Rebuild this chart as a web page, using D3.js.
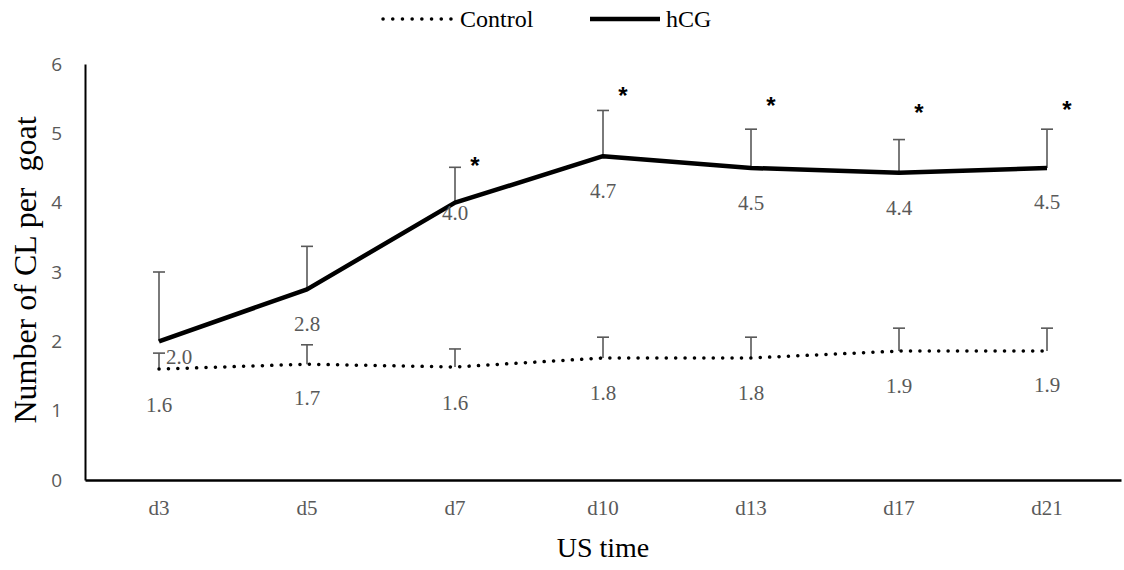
<!DOCTYPE html>
<html>
<head>
<meta charset="utf-8">
<script src="https://cdn.jsdelivr.net/npm/d3@7"></script>
<style>
  body { margin: 0; background: #fff; }
  svg { display: block; }
</style>
</head>
<body>
<svg id="chart" width="1124" height="570"></svg>
<script>
// data
var days = ['d3', 'd5', 'd7', 'd10', 'd13', 'd17', 'd21'];
var hcgMean = [2.0, 2.75, 4.0, 4.67, 4.5, 4.43, 4.5];
var hcgErr = [1.0, 0.62, 0.51, 0.66, 0.56, 0.48, 0.56];
var ctrlMean = [1.6, 1.67, 1.63, 1.76, 1.76, 1.86, 1.86];
var ctrlErr = [0.23, 0.28, 0.26, 0.30, 0.30, 0.33, 0.33];
var hcgLabels = ['2.0', '2.8', '4.0', '4.7', '4.5', '4.4', '4.5'];
var ctrlLabels = ['1.6', '1.7', '1.6', '1.8', '1.8', '1.9', '1.9'];
var yTicks = [0, 1, 2, 3, 4, 5, 6];
// significance marks (day, height in y units)
var starDays = ['d7', 'd10', 'd13', 'd17', 'd21'];
var starY = [4.62, 5.62, 5.48, 5.38, 5.42];

var svg = d3.select('#chart');
var mLeft = 85, mRight = 1121, mTop = 64, mBottom = 480;

var x = d3.scaleBand().domain(days).range([mLeft, mRight]);
var y = d3.scaleLinear().domain([0, 6]).range([mBottom, mTop]);
var cx = function(d) { return x(d) + x.bandwidth() / 2; };

// y axis
var yAxis = svg.append('g')
  .attr('transform', 'translate(' + mLeft + ',0)')
  .call(d3.axisLeft(y).tickValues(yTicks).tickFormat(d3.format('d')).tickSize(0).tickPadding(23));
yAxis.select('.domain').attr('stroke', '#000').attr('stroke-width', 2);
yAxis.selectAll('text')
  .attr('fill', '#595959')
  .style('font-family', '"Open Sans", "Liberation Sans", sans-serif')
  .style('font-size', '19px');

// x axis
var xAxis = svg.append('g')
  .attr('transform', 'translate(0,' + mBottom + ')')
  .call(d3.axisBottom(x).tickSize(0).tickPadding(20));
xAxis.select('.domain').attr('stroke', '#000').attr('stroke-width', 2.5);
xAxis.selectAll('text')
  .attr('fill', '#595959')
  .style('font-family', '"Liberation Serif", "DejaVu Serif", serif')
  .style('font-size', '21px');

// axis titles
svg.append('text')
  .attr('transform', 'translate(36,270) rotate(-90)')
  .attr('text-anchor', 'middle')
  .style('font-family', '"Liberation Serif", serif')
  .style('font-size', '32px')
  .style('white-space', 'pre')
  .text('Number of CL per  goat');

svg.append('text')
  .attr('x', (mLeft + mRight) / 2)
  .attr('y', 557)
  .attr('text-anchor', 'middle')
  .style('font-family', '"Liberation Serif", serif')
  .style('font-size', '28px')
  .text('US time');

// error bars (upper only)
function errorBars(means, errs) {
  var g = svg.append('g').attr('stroke', '#595959').attr('stroke-width', 1.6);
  days.forEach(function(d, i) {
    var px = cx(d);
    g.append('line')
      .attr('x1', px).attr('x2', px)
      .attr('y1', y(means[i])).attr('y2', y(means[i] + errs[i]));
    g.append('line')
      .attr('x1', px - 6).attr('x2', px + 6)
      .attr('y1', y(means[i] + errs[i])).attr('y2', y(means[i] + errs[i]));
  });
}
errorBars(ctrlMean, ctrlErr);
errorBars(hcgMean, hcgErr);

var line = d3.line()
  .x(function(d, i) { return cx(days[i]); })
  .y(function(d) { return y(d); });

svg.append('path')
  .datum(ctrlMean)
  .attr('d', line)
  .attr('fill', 'none')
  .attr('stroke', '#000')
  .attr('stroke-width', 3.5)
  .attr('stroke-linecap', 'round')
  .attr('stroke-dasharray', '0.1 9.3');

svg.append('path')
  .datum(hcgMean)
  .attr('d', line)
  .attr('fill', 'none')
  .attr('stroke', '#000')
  .attr('stroke-width', 4.5)
  .attr('stroke-linejoin', 'round');

// data labels
function dataLabels(means, labels, dxs, dys) {
  svg.append('g').selectAll('text')
    .data(means)
    .enter()
    .append('text')
    .attr('x', function(d, i) { return cx(days[i]) + dxs[i]; })
    .attr('y', function(d, i) { return y(d) + dys[i]; })
    .attr('text-anchor', 'middle')
    .attr('fill', '#595959')
    .style('font-family', '"Liberation Serif", serif')
    .style('font-size', '21px')
    .text(function(d, i) { return labels[i]; });
}
dataLabels(hcgMean, hcgLabels, [20, 0, 0, 0, 0, 0, 0], [23, 42, 17, 42, 42, 42, 41]);
dataLabels(ctrlMean, ctrlLabels, [0, 0, 0, 0, 0, 0, 0], [43, 41, 43, 42, 42, 42, 41]);

// asterisks
svg.append('g').selectAll('text')
  .data(starDays)
  .enter()
  .append('text')
  .attr('x', function(d) { return cx(d) + 20; })
  .attr('y', function(d, i) { return y(starY[i]) + 14; })
  .attr('text-anchor', 'middle')
  .style('font-family', '"Liberation Sans", sans-serif')
  .style('font-weight', 'bold')
  .style('font-size', '24px')
  .text('*');

// legend
var legend = svg.append('g').style('font-family', '"Liberation Serif", serif').style('font-size', '24px');
legend.append('line')
  .attr('x1', 383).attr('x2', 452).attr('y1', 19).attr('y2', 19)
  .attr('stroke', '#000').attr('stroke-width', 3.5)
  .attr('stroke-linecap', 'round').attr('stroke-dasharray', '0.1 9.6');
legend.append('text').attr('x', 460).attr('y', 27).text('Control');
legend.append('line')
  .attr('x1', 590).attr('x2', 660).attr('y1', 19).attr('y2', 19)
  .attr('stroke', '#000').attr('stroke-width', 4.5);
legend.append('text').attr('x', 666).attr('y', 27).text('hCG');
</script>
</body>
</html>
